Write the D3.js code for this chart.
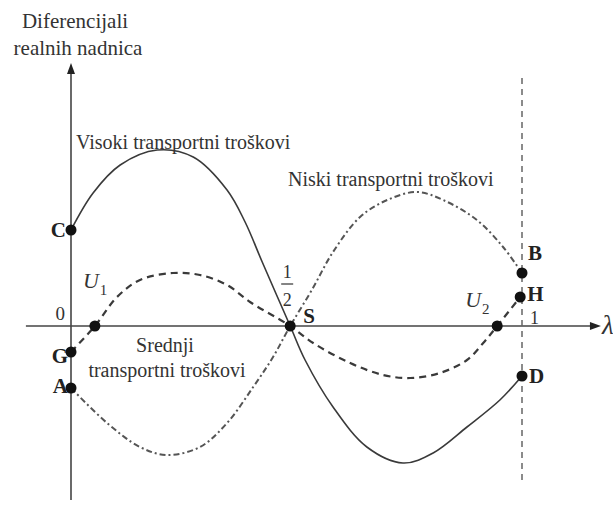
<html>
  <head>
    <meta charset="utf-8">
    <script src="https://cdnjs.cloudflare.com/ajax/libs/d3/7.8.5/d3.min.js"></script>
    <style>
      body { margin: 0; background: #fff; }
      text { font-family: "Liberation Serif", "DejaVu Serif", serif; fill: #333; }
      .pt-label { font-weight: bold; font-size: 21px; fill: #222; }
      .curve-label { font-size: 20px; }
    </style>
  </head>
  <body>
    <svg width="613" height="505"></svg>
    <script>
      // curves as [lambda, wage differential]
      var visoki = [[0, 0.48], [0.049, 0.665], [0.109, 0.805], [0.191, 0.88], [0.271, 0.845],
        [0.346, 0.68], [0.386, 0.52], [0.424, 0.32], [0.486, 0], [0.519, -0.17], [0.581, -0.405],
        [0.656, -0.605], [0.736, -0.685], [0.803, -0.635], [0.878, -0.505], [0.951, -0.37], [1, -0.25]];
      var srednji = [[0, -0.13], [0.053, 0], [0.102, 0.145], [0.153, 0.23], [0.226, 0.265],
        [0.286, 0.255], [0.346, 0.205], [0.397, 0.12], [0.486, 0], [0.537, -0.085], [0.619, -0.185],
        [0.692, -0.245], [0.752, -0.26], [0.818, -0.235], [0.878, -0.17], [0.914, -0.085],
        [0.945, 0], [0.996, 0.145]];
      var niski = [[0, -0.31], [0.08, -0.485], [0.153, -0.605], [0.213, -0.645], [0.286, -0.605],
        [0.346, -0.485], [0.404, -0.305], [0.448, -0.155], [0.486, 0], [0.534, 0.18], [0.581, 0.37],
        [0.641, 0.545], [0.701, 0.63], [0.767, 0.67], [0.825, 0.63], [0.9, 0.53], [0.958, 0.395],
        [1, 0.265]];

      var pointNames = ['C', 'G', 'A', 'U1', 'S', 'U2', 'B', 'H', 'D'];
      var pointLambda = [0, 0, 0, 0.053, 0.486, 0.945, 1, 0.996, 1];
      var pointValue = [0.48, -0.13, -0.31, 0, 0, 0, 0.265, 0.145, -0.25];

      var svg = d3.select('svg');

      var xScale = d3.scaleLinear().domain([0, 1]).range([71, 522]);
      var yScale = d3.scaleLinear().domain([-1, 1]).range([526, 126]);

      var line = d3.line()
        .x(d => xScale(d[0]))
        .y(d => yScale(d[1]))
        .curve(d3.curveCatmullRom.alpha(0.5));

      // axes
      var axisColor = '#444';
      svg.append('line')
        .attr('x1', xScale(-0.1)).attr('x2', xScale(1.16))
        .attr('y1', yScale(0)).attr('y2', yScale(0))
        .attr('stroke', axisColor).attr('stroke-width', 1.6);
      svg.append('line')
        .attr('x1', xScale(0)).attr('x2', xScale(0))
        .attr('y1', yScale(-0.87)).attr('y2', yScale(1.29))
        .attr('stroke', axisColor).attr('stroke-width', 1.6);

      // arrow heads
      var xt = xScale(1.175), yt = yScale(0);
      svg.append('path')
        .attr('d', `M${xt},${yt} L${xt - 11},${yt - 4} L${xt - 11},${yt + 4} Z`)
        .attr('fill', '#222');
      var ax = xScale(0), ay = yScale(1.315);
      svg.append('path')
        .attr('d', `M${ax},${ay} L${ax - 4},${ay + 11} L${ax + 4},${ay + 11} Z`)
        .attr('fill', '#222');

      // lambda = 1
      svg.append('line')
        .attr('x1', xScale(1)).attr('x2', xScale(1))
        .attr('y1', yScale(1.24)).attr('y2', yScale(-0.78))
        .attr('stroke', '#666').attr('stroke-width', 1.5)
        .attr('stroke-dasharray', '6,5');

      // curves
      svg.append('path').datum(visoki)
        .attr('d', line).attr('fill', 'none')
        .attr('stroke', '#3a3a3a').attr('stroke-width', 1.6);
      svg.append('path').datum(srednji)
        .attr('d', line).attr('fill', 'none')
        .attr('stroke', '#3a3a3a').attr('stroke-width', 2.2)
        .attr('stroke-dasharray', '7,5');
      svg.append('path').datum(niski)
        .attr('d', line).attr('fill', 'none')
        .attr('stroke', '#555').attr('stroke-width', 2)
        .attr('stroke-dasharray', '6,3,2,3');

      // points
      var points = pointNames.map((n, i) => ({ name: n, l: pointLambda[i], v: pointValue[i] }));
      svg.selectAll('circle.pt').data(points)
        .enter().append('circle')
          .attr('class', 'pt')
          .attr('cx', d => xScale(d.l))
          .attr('cy', d => yScale(d.v))
          .attr('r', 5.5)
          .attr('fill', '#111');

      // point letters
      var offsets = {
        C: [-5, 7, 'end'], G: [-3, 11, 'end'], A: [-3, 5, 'end'],
        S: [13, -3, 'start'], B: [6, -13, 'start'], H: [7, 4, 'start'], D: [7, 7, 'start']
      };
      points.filter(d => offsets[d.name]).forEach(d => {
        var o = offsets[d.name];
        svg.append('text').attr('class', 'pt-label')
          .attr('x', xScale(d.l) + o[0]).attr('y', yScale(d.v) + o[1])
          .attr('text-anchor', o[2])
          .text(d.name);
      });

      // U1, U2
      function uLabel(x, y, sub) {
        var t = svg.append('text').attr('x', x).attr('y', y)
          .style('font-size', '22px').style('font-style', 'italic');
        t.append('tspan').text('U');
        t.append('tspan').attr('dy', 7).attr('dx', 1)
          .style('font-size', '15px').style('font-style', 'normal').text(sub);
      }
      uLabel(xScale(0.053) - 12, yScale(0) - 38, '1');
      uLabel(xScale(0.945) - 32, yScale(0) - 19, '2');

      // origin and 1
      svg.append('text').attr('x', xScale(0) - 6).attr('y', yScale(0) - 6)
        .attr('text-anchor', 'end').style('font-size', '19px').text('0');
      svg.append('text').attr('x', xScale(1) + 8).attr('y', yScale(0) - 2)
        .style('font-size', '18px').text('1');

      // 1/2
      var hx = xScale(0.486) - 3, hy = yScale(0);
      svg.append('text').attr('x', hx).attr('y', hy - 48)
        .attr('text-anchor', 'middle').style('font-size', '18px').text('1');
      svg.append('line').attr('x1', hx - 6).attr('x2', hx + 6)
        .attr('y1', hy - 42).attr('y2', hy - 42)
        .attr('stroke', '#333').attr('stroke-width', 1.2);
      svg.append('text').attr('x', hx).attr('y', hy - 20)
        .attr('text-anchor', 'middle').style('font-size', '18px').text('2');

      // lambda
      svg.append('text').attr('x', xScale(1.175) + 1).attr('y', yScale(0) + 8)
        .style('font-size', '27px').style('font-style', 'italic').text('λ');

      // y title
      svg.append('text').attr('x', 75).attr('y', 28)
        .attr('text-anchor', 'middle').style('font-size', '21px').text('Diferencijali');
      svg.append('text').attr('x', 78).attr('y', 55)
        .attr('text-anchor', 'middle').style('font-size', '21px').text('realnih nadnica');

      // curve labels
      svg.append('text').attr('class', 'curve-label')
        .attr('x', 76).attr('y', 149).text('Visoki transportni troškovi');
      svg.append('text').attr('class', 'curve-label')
        .attr('x', 288).attr('y', 186).text('Niski transportni troškovi');
      svg.append('text').attr('class', 'curve-label')
        .attr('x', 165).attr('y', 352).attr('text-anchor', 'middle').text('Srednji');
      svg.append('text').attr('class', 'curve-label')
        .attr('x', 167).attr('y', 377).attr('text-anchor', 'middle').text('transportni troškovi');
    </script>
  </body>
</html>
